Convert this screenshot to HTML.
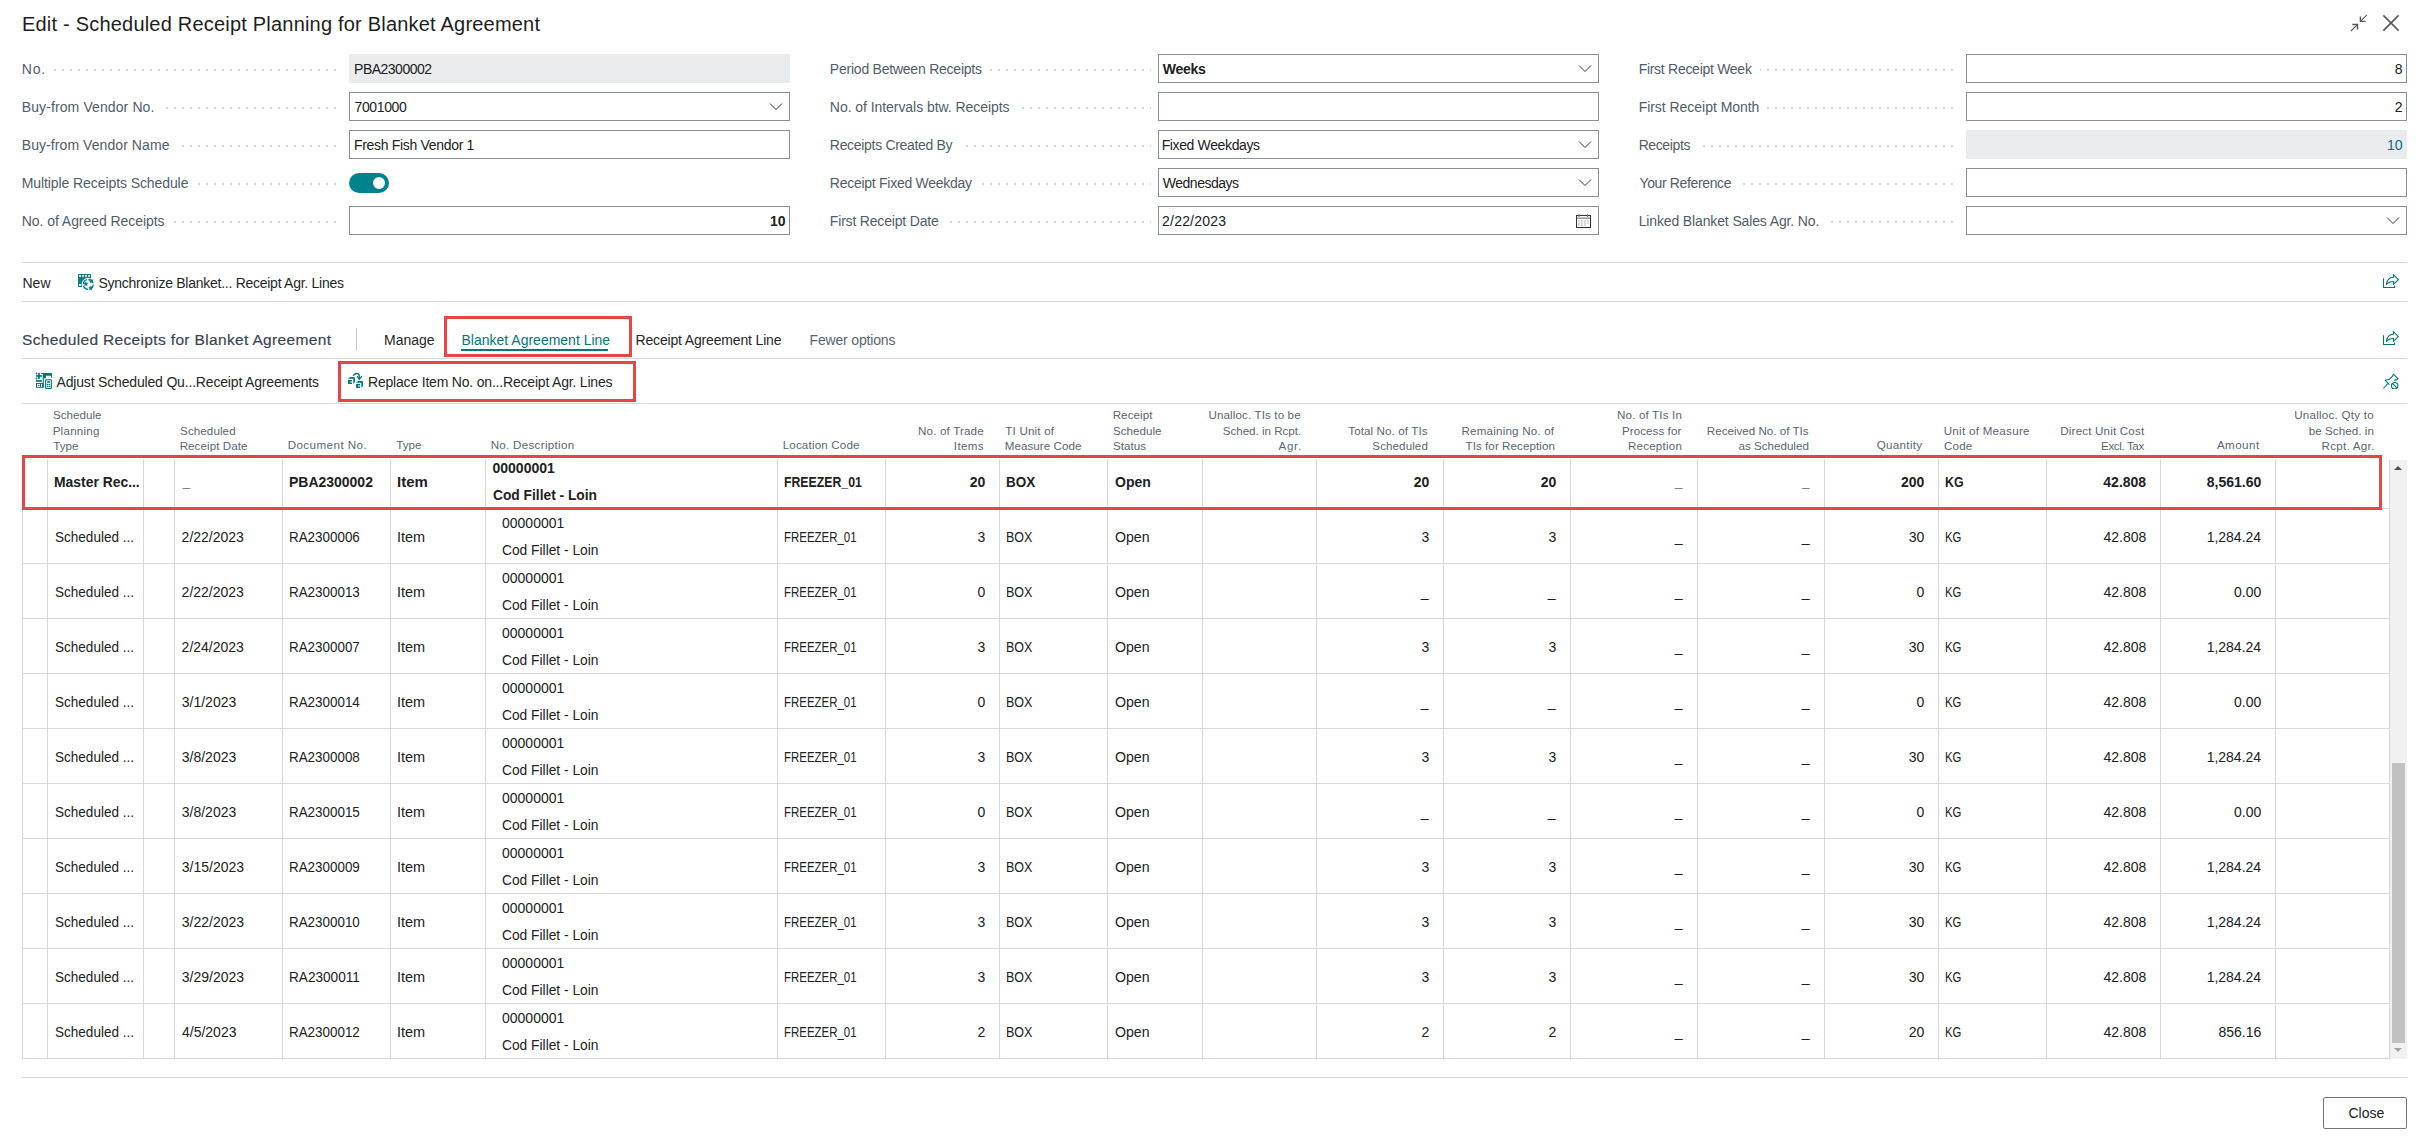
<!DOCTYPE html>
<html><head><meta charset="utf-8"><title>Edit - Scheduled Receipt Planning for Blanket Agreement</title>
<style>
*{margin:0;padding:0;box-sizing:content-box}
html,body{width:2427px;height:1142px;overflow:hidden;background:#fff}
body{position:relative;font-family:"Liberation Sans", sans-serif;}
.t,.ab,.lab,.dots,.hl{position:absolute}
.t{white-space:nowrap}
.lab{font-size:14px;line-height:20px;color:#525c68;background:#fff;padding-right:8px;white-space:nowrap}
.dots{height:2px;background-image:linear-gradient(90deg,#d2d5da 2px,transparent 2px);background-size:8px 2px;background-position:left top;background-repeat:repeat-x}
.inp{border:1px solid #8a909a;background:#fff}
.hl{left:22px;width:2385px;height:1px;background:#d5d8dd}
.rb{border:3px solid #e74641}
</style></head><body>
<div class="t" style="left:22px;top:10.07px;font-size:20px;line-height:28px;color:#1e1e1e;font-weight:normal;letter-spacing:0.204px;">Edit - Scheduled Receipt Planning for Blanket Agreement</div>
<svg class="ab" style="left:2348px;top:12px" width="24" height="24" viewBox="2348 12 24 24">
<g stroke="#555" fill="none" stroke-width="1.1" stroke-linecap="square">
<path d="M2366.6 15.2 L2360.6 21.2"/><path d="M2360.4 17.2 V21.4 H2364.8" stroke-width="1.4"/>
<path d="M2351.3 30.7 L2357.3 24.7"/><path d="M2353.0 24.5 H2357.5 V28.8" stroke-width="1.4"/>
</g></svg>
<svg class="ab" style="left:2380px;top:12px" width="22" height="22" viewBox="2380 12 22 22">
<g stroke="#555" stroke-width="1.7" stroke-linecap="square"><path d="M2384 16 L2398 30 M2398 16 L2384 30"/></g></svg>
<div class="dots" style="left:22px;top:69px;width:314px"></div>
<div class="lab" style="left:21.75px;top:58.65px;letter-spacing:0.770px;">No.</div>
<div class="ab" style="left:349px;top:54px;width:441px;height:29px;background:#eaebed"></div>
<div class="t" style="left:354.0515625px;top:58.65px;font-size:14px;line-height:20px;color:#212121;font-weight:normal;letter-spacing:-0.507px;">PBA2300002</div>
<div class="dots" style="left:22px;top:107px;width:314px"></div>
<div class="lab" style="left:21.75px;top:96.65px;letter-spacing:0.106px;">Buy-from Vendor No.</div>
<div class="ab inp" style="left:349px;top:92px;width:439px;height:27px"></div>
<div class="t" style="left:354.4822265625px;top:96.65px;font-size:14px;line-height:20px;color:#212121;font-weight:normal;letter-spacing:-0.356px;">7001000</div>
<svg class="ab" style="left:769px;top:102px" width="14" height="9"><path d="M1 1.5 L7 7.5 L13 1.5" stroke="#333" stroke-width="1" fill="none"/></svg>
<div class="dots" style="left:22px;top:145px;width:314px"></div>
<div class="lab" style="left:21.75px;top:134.65px;letter-spacing:0.073px;">Buy-from Vendor Name</div>
<div class="ab inp" style="left:349px;top:130px;width:439px;height:27px"></div>
<div class="t" style="left:354.0515625px;top:134.65px;font-size:14px;line-height:20px;color:#212121;font-weight:normal;letter-spacing:-0.318px;">Fresh Fish Vendor 1</div>
<div class="dots" style="left:22px;top:183px;width:314px"></div>
<div class="lab" style="left:21.75px;top:172.65px;letter-spacing:-0.088px;">Multiple Receipts Schedule</div>
<div class="ab" style="left:349px;top:173px;width:40px;height:20px;border-radius:10px;background:#00838f"></div><div class="ab" style="left:373px;top:177px;width:12px;height:12px;border-radius:6px;background:#fff"></div>
<div class="dots" style="left:22px;top:221px;width:314px"></div>
<div class="lab" style="left:21.75px;top:210.65px;letter-spacing:-0.053px;">No. of Agreed Receipts</div>
<div class="ab inp" style="left:349px;top:206px;width:439px;height:27px"></div>
<div class="t" style="right:1641.5px;top:210.65px;font-size:14px;line-height:20px;color:#212121;font-weight:bold;text-align:right;">10</div>
<div class="dots" style="left:830px;top:69px;width:321px"></div>
<div class="lab" style="left:829.85px;top:58.65px;letter-spacing:-0.229px;">Period Between Receipts</div>
<div class="ab inp" style="left:1158px;top:54px;width:439px;height:27px"></div>
<div class="t" style="left:1162.786328125px;top:58.65px;font-size:14px;line-height:20px;color:#212121;font-weight:bold;letter-spacing:-0.279px;">Weeks</div>
<svg class="ab" style="left:1578px;top:64px" width="14" height="9"><path d="M1 1.5 L7 7.5 L13 1.5" stroke="#333" stroke-width="1" fill="none"/></svg>
<div class="dots" style="left:830px;top:107px;width:321px"></div>
<div class="lab" style="left:829.85px;top:96.65px;letter-spacing:-0.057px;">No. of Intervals btw. Receipts</div>
<div class="ab inp" style="left:1158px;top:92px;width:439px;height:27px"></div>
<div class="dots" style="left:830px;top:145px;width:321px"></div>
<div class="lab" style="left:829.85px;top:134.65px;letter-spacing:-0.312px;">Receipts Created By</div>
<div class="ab inp" style="left:1158px;top:130px;width:439px;height:27px"></div>
<div class="t" style="left:1161.6515625px;top:134.65px;font-size:14px;line-height:20px;color:#212121;font-weight:normal;letter-spacing:-0.367px;">Fixed Weekdays</div>
<svg class="ab" style="left:1578px;top:140px" width="14" height="9"><path d="M1 1.5 L7 7.5 L13 1.5" stroke="#333" stroke-width="1" fill="none"/></svg>
<div class="dots" style="left:830px;top:183px;width:321px"></div>
<div class="lab" style="left:829.85px;top:172.65px;letter-spacing:-0.271px;">Receipt Fixed Weekday</div>
<div class="ab inp" style="left:1158px;top:168px;width:439px;height:27px"></div>
<div class="t" style="left:1162.7384765625px;top:172.65px;font-size:14px;line-height:20px;color:#212121;font-weight:normal;letter-spacing:-0.479px;">Wednesdays</div>
<svg class="ab" style="left:1578px;top:178px" width="14" height="9"><path d="M1 1.5 L7 7.5 L13 1.5" stroke="#333" stroke-width="1" fill="none"/></svg>
<div class="dots" style="left:830px;top:221px;width:321px"></div>
<div class="lab" style="left:829.85px;top:210.65px;letter-spacing:-0.186px;">First Receipt Date</div>
<div class="ab inp" style="left:1158px;top:206px;width:439px;height:27px"></div>
<div class="t" style="left:1162.0958984375px;top:210.65px;font-size:14px;line-height:20px;color:#212121;font-weight:normal;letter-spacing:0.192px;">2/22/2023</div>
<svg class="ab" style="left:1575px;top:213px" width="17" height="16" viewBox="0 0 17 16">
<g fill="none" stroke="#333" stroke-width="1"><rect x="1.5" y="2.5" width="14" height="12"/></g>
<rect x="2" y="4.5" width="13" height="1.3" fill="#888"/>
<g fill="#777"><rect x="3.5" y="1" width="1" height="3"/><rect x="12" y="1" width="1" height="3"/>
<rect x="3.5" y="7.5" width="1" height="1"/><rect x="6.5" y="7.5" width="1" height="1"/><rect x="9.5" y="7.5" width="1" height="1"/><rect x="12.5" y="7.5" width="1" height="1"/>
<rect x="3.5" y="9.5" width="1" height="1"/><rect x="6.5" y="9.5" width="1" height="1"/><rect x="9.5" y="9.5" width="1" height="1"/><rect x="12.5" y="9.5" width="1" height="1"/>
<rect x="3.5" y="11.5" width="1" height="1"/><rect x="6.5" y="11.5" width="1" height="1"/><rect x="9.5" y="11.5" width="1" height="1"/></g></svg>
<div class="dots" style="left:1639px;top:69px;width:314px"></div>
<div class="lab" style="left:1638.65px;top:58.65px;letter-spacing:-0.280px;">First Receipt Week</div>
<div class="ab inp" style="left:1966px;top:54px;width:439px;height:27px"></div>
<div class="t" style="right:24.5px;top:58.65px;font-size:14px;line-height:20px;color:#212121;font-weight:normal;text-align:right;">8</div>
<div class="dots" style="left:1639px;top:107px;width:314px"></div>
<div class="lab" style="left:1638.65px;top:96.65px;letter-spacing:-0.034px;">First Receipt Month</div>
<div class="ab inp" style="left:1966px;top:92px;width:439px;height:27px"></div>
<div class="t" style="right:24.5px;top:96.65px;font-size:14px;line-height:20px;color:#212121;font-weight:normal;text-align:right;">2</div>
<div class="dots" style="left:1639px;top:145px;width:314px"></div>
<div class="lab" style="left:1638.65px;top:134.65px;letter-spacing:-0.388px;">Receipts</div>
<div class="ab" style="left:1966px;top:130px;width:441px;height:29px;background:#eaebed"></div>
<div class="t" style="right:24.5px;top:134.65px;font-size:14px;line-height:20px;color:#00707c;font-weight:normal;text-align:right;">10</div>
<div class="dots" style="left:1639px;top:183px;width:314px"></div>
<div class="lab" style="left:1639.49px;top:172.65px;letter-spacing:-0.365px;">Your Reference</div>
<div class="ab inp" style="left:1966px;top:168px;width:439px;height:27px"></div>
<div class="dots" style="left:1639px;top:221px;width:314px"></div>
<div class="lab" style="left:1638.65px;top:210.65px;letter-spacing:-0.133px;">Linked Blanket Sales Agr. No.</div>
<div class="ab inp" style="left:1966px;top:206px;width:439px;height:27px"></div>
<svg class="ab" style="left:2386px;top:216px" width="14" height="9"><path d="M1 1.5 L7 7.5 L13 1.5" stroke="#333" stroke-width="1" fill="none"/></svg>
<div class="hl" style="top:262px"></div>
<div class="t" style="left:22.5px;top:273.15px;font-size:14px;line-height:20px;color:#262626;font-weight:normal;">New</div>
<svg class="ab" style="left:72px;top:268px" width="28" height="28" viewBox="0 0 28 28">
<rect x="6" y="6" width="13" height="13" rx="0.8" fill="#0a7f86"/>
<g fill="#fff"><rect x="7.2" y="7.1" width="1.7" height="1.8"/><rect x="10.2" y="7.1" width="1.7" height="1.8"/><rect x="13.2" y="7.1" width="1.7" height="1.8"/><rect x="16.2" y="7.1" width="1.7" height="1.8"/>
<rect x="7.1" y="16" width="1.8" height="1.9"/></g>
<circle cx="16.2" cy="16.4" r="6.6" fill="#fff"/>
<circle cx="16.2" cy="16.4" r="4.9" fill="none" stroke="#0a7f86" stroke-width="1.3" stroke-dasharray="6 1.6"/>
<g fill="#0a7f86">
<path d="M11.2 15.2 l1.9 -0.4 l0.9 -1.7 l0.7 1.8 l1.9 0.3 l-1.5 1.2 l0.4 1.9 l-1.6 -1 l-1.7 0.9 l0.4 -1.9z"/>
<path d="M18.6 10.4 l1.2 1.3 l1.8 -0.2 l-0.9 1.6 l0.8 1.6 l-1.8 -0.4 l-1.3 1.2 l-0.2 -1.8 l-1.6 -0.9 l1.7 -0.7z"/>
<path d="M16.4 19.4 l1.7 -0.6 l1 -1.5 l0.5 1.8 l1.8 0.5 l-1.5 1 l0.1 1.8 l-1.4 -1.1 l-1.7 0.6 l0.6 -1.7z"/>
</g>
</svg>
<div class="t" style="left:98.5px;top:273.15px;font-size:14px;line-height:20px;color:#262626;font-weight:normal;letter-spacing:-0.263px;">Synchronize Blanket... Receipt Agr. Lines</div>
<svg class="ab" style="left:2380px;top:274px" width="22" height="18" viewBox="0 0 22 18">
<g fill="none" stroke="#00767a" stroke-width="1.1" stroke-linejoin="round">
<path d="M3.5 4.2 V13.5 H14.6 V11.5"/>
<path d="M13.4 0.6 L18.4 5.6 L13.4 10.4 V7.5 C10 7.2 8.2 8.2 6.3 10.3 C7 6 10 3.4 13.4 3.3 Z"/>
</g></svg>
<div class="hl" style="top:301px"></div>
<div class="t" style="left:22px;top:328.63px;font-size:15.5px;line-height:22px;color:#3b4552;font-weight:normal;-webkit-text-stroke:0.2px #3b4552;letter-spacing:0.345px;">Scheduled Receipts for Blanket Agreement</div>
<div class="ab" style="left:356px;top:328px;width:1px;height:23px;background:#c8cbd0"></div>
<div class="t" style="left:384px;top:330.15px;font-size:14px;line-height:20px;color:#262626;font-weight:normal;">Manage</div>
<div class="t" style="left:461.5px;top:330.15px;font-size:14px;line-height:20px;color:#00767a;font-weight:normal;">Blanket Agreement Line</div>
<div class="ab" style="left:461px;top:349px;width:147px;height:2px;background:#007a7d"></div>
<div class="t" style="left:635.5px;top:330.15px;font-size:14px;line-height:20px;color:#262626;font-weight:normal;letter-spacing:-0.163px;">Receipt Agreement Line</div>
<div class="t" style="left:809.5px;top:330.15px;font-size:14px;line-height:20px;color:#5a6470;font-weight:normal;letter-spacing:-0.161px;">Fewer options</div>
<svg class="ab" style="left:2380px;top:331px" width="22" height="18" viewBox="0 0 22 18">
<g fill="none" stroke="#00767a" stroke-width="1.1" stroke-linejoin="round">
<path d="M3.5 4.2 V13.5 H14.6 V11.5"/>
<path d="M13.4 0.6 L18.4 5.6 L13.4 10.4 V7.5 C10 7.2 8.2 8.2 6.3 10.3 C7 6 10 3.4 13.4 3.3 Z"/>
</g></svg>
<div class="hl" style="top:358px"></div>
<svg class="ab" style="left:30px;top:368px" width="28" height="28" viewBox="0 0 28 28">
<g fill="#00767a">
<circle cx="6.5" cy="5.4" r="0.9"/><circle cx="6.5" cy="10.5" r="0.9"/>
<rect x="8.1" y="4.9" width="1.8" height="5.9"/><rect x="6" y="7.1" width="5.9" height="1.7"/>
<rect x="6" y="12.1" width="5.9" height="1.7"/>
<path d="M11.2 4.9 H21.9 V9.8 H20.9 V7.8 H15.9 V10.3 H13.8 V19.8 H12.7 V6.1 H11.2 Z"/>
<path fill-rule="evenodd" d="M6 15 H13 V19.8 H6 Z M7 16 V18.9 H9.9 V16 Z M11 16 V18.9 H12 V16 Z"/>
<circle cx="8.5" cy="17.5" r="0.8"/>
<path fill-rule="evenodd" d="M15.9 11.2 H21.1 Q21.9 11.2 21.9 12 V20.2 Q21.9 21 21.1 21 H15.9 Q15.1 21 15.1 20.2 V12 Q15.1 11.2 15.9 11.2 Z M16.2 12.2 V20 H20.8 V12.2 Z"/>
<rect x="17.2" y="13.1" width="2.7" height="1.7"/>
<circle cx="17.5" cy="16.5" r="0.8"/><circle cx="19.5" cy="16.5" r="0.8"/><circle cx="17.5" cy="18.5" r="0.8"/><circle cx="19.5" cy="18.5" r="0.8"/>
</g></svg>
<div class="t" style="left:56.5px;top:372.15px;font-size:14px;line-height:20px;color:#262626;font-weight:normal;letter-spacing:-0.174px;">Adjust Scheduled Qu...Receipt Agreements</div>
<svg class="ab" style="left:342px;top:368px" width="28" height="28" viewBox="0 0 28 28">
<g fill="#00767a">
<path id="bx" d="M6 10.7 C7 9.7 7.8 9.1 9.2 9.1 H11.6 C12.5 9.1 13 9.8 13 10.6 V13.9 L11.3 16 V10.7 Z M6 12.1 H10 V13.5 H7.9 V14.6 H10 V16 H6 Z"/>
<path transform="translate(8.1 4)" d="M6 10.7 C7 9.7 7.8 9.1 9.2 9.1 H11.6 C12.5 9.1 13 9.8 13 10.6 V13.9 L11.3 16 V10.7 Z M6 12.1 H10 V13.5 H7.9 V14.6 H10 V16 H6 Z"/>
</g>
<g fill="none" stroke="#00767a" stroke-width="1.3" stroke-linecap="round" stroke-linejoin="round">
<path d="M11.4 7.4 C12.5 6.1 13.5 5.5 14.7 5.5 C16.3 5.5 17.4 6.8 17.4 8.5 V11"/>
<path d="M15.5 8.6 L17.4 11.3 L19.4 8.6"/>
</g></svg>
<div class="t" style="left:368px;top:372.15px;font-size:14px;line-height:20px;color:#262626;font-weight:normal;letter-spacing:-0.196px;">Replace Item No. on...Receipt Agr. Lines</div>
<svg class="ab" style="left:2380px;top:367px" width="22" height="22" viewBox="0 0 22 22">
<g fill="none" stroke="#00767a" stroke-width="1.1" stroke-linejoin="round">
<path d="M9.4 17.6 L5.2 13.3 L9.2 12.3 L12.6 9.2 L13.4 7.1 L17.9 11.6 L17 12.6 L14.2 13.4"/>
<path d="M7.9 16.5 L3.4 21.5"/>
<circle cx="14.7" cy="18.7" r="3.2"/><path d="M12.5 16.5 L16.9 20.9"/>
</g></svg>
<div class="hl" style="top:403px"></div>
<div class="ab rb" style="left:338px;top:361px;width:292px;height:35px"></div>
<div class="ab rb" style="left:444px;top:316px;width:182px;height:35px"></div>

<div class="t" style="left:53.0732421875px;top:406.98px;font-size:11.6px;line-height:16px;color:#5b6571;font-weight:normal;letter-spacing:0.010px;">Schedule</div>
<div class="t" style="left:52.6484375px;top:422.68px;font-size:11.6px;line-height:16px;color:#5b6571;font-weight:normal;letter-spacing:0.250px;">Planning</div>
<div class="t" style="left:53.339453125px;top:438.38px;font-size:11.6px;line-height:16px;color:#5b6571;font-weight:normal;letter-spacing:0.009px;">Type</div>
<div class="t" style="left:180.0732421875px;top:422.68px;font-size:11.6px;line-height:16px;color:#5b6571;font-weight:normal;letter-spacing:0.094px;">Scheduled</div>
<div class="t" style="left:179.6484375px;top:438.38px;font-size:11.6px;line-height:16px;color:#5b6571;font-weight:normal;letter-spacing:0.074px;">Receipt Date</div>
<div class="t" style="left:287.6484375px;top:436.78px;font-size:11.6px;line-height:16px;color:#5b6571;font-weight:normal;letter-spacing:0.452px;">Document No.</div>
<div class="t" style="left:396.33945312500003px;top:436.78px;font-size:11.6px;line-height:16px;color:#5b6571;font-weight:normal;letter-spacing:0.009px;">Type</div>
<div class="t" style="left:490.6484375px;top:436.78px;font-size:11.6px;line-height:16px;color:#5b6571;font-weight:normal;letter-spacing:0.300px;">No. Description</div>
<div class="t" style="left:782.6484375px;top:436.78px;font-size:11.6px;line-height:16px;color:#5b6571;font-weight:normal;letter-spacing:0.180px;">Location Code</div>
<div class="t" style="right:1443.3845703124998px;top:422.68px;font-size:11.6px;line-height:16px;color:#5b6571;font-weight:normal;text-align:right;letter-spacing:0.157px;margin-right:-0.157px;">No. of Trade</div>
<div class="t" style="right:1443.480859375px;top:438.38px;font-size:11.6px;line-height:16px;color:#5b6571;font-weight:normal;text-align:right;letter-spacing:0.332px;margin-right:-0.332px;">Items</div>
<div class="t" style="left:1005.339453125px;top:422.68px;font-size:11.6px;line-height:16px;color:#5b6571;font-weight:normal;letter-spacing:0.187px;">TI Unit of</div>
<div class="t" style="left:1004.6484375px;top:438.38px;font-size:11.6px;line-height:16px;color:#5b6571;font-weight:normal;letter-spacing:0.080px;">Measure Code</div>
<div class="t" style="left:1112.6484375px;top:406.98px;font-size:11.6px;line-height:16px;color:#5b6571;font-weight:normal;letter-spacing:0.084px;">Receipt</div>
<div class="t" style="left:1113.0732421875px;top:422.68px;font-size:11.6px;line-height:16px;color:#5b6571;font-weight:normal;letter-spacing:0.010px;">Schedule</div>
<div class="t" style="left:1113.0732421875px;top:438.38px;font-size:11.6px;line-height:16px;color:#5b6571;font-weight:normal;letter-spacing:0.032px;">Status</div>
<div class="t" style="right:1126.3845703125px;top:406.98px;font-size:11.6px;line-height:16px;color:#5b6571;font-weight:normal;text-align:right;letter-spacing:0.127px;margin-right:-0.127px;">Unalloc. TIs to be</div>
<div class="t" style="right:1125.8408203125px;top:422.68px;font-size:11.6px;line-height:16px;color:#5b6571;font-weight:normal;text-align:right;letter-spacing:-0.013px;margin-right:0.013px;">Sched. in Rcpt.</div>
<div class="t" style="right:1125.8408203125px;top:438.38px;font-size:11.6px;line-height:16px;color:#5b6571;font-weight:normal;text-align:right;letter-spacing:0.649px;margin-right:-0.649px;">Agr.</div>
<div class="t" style="right:999.4808593750001px;top:422.68px;font-size:11.6px;line-height:16px;color:#5b6571;font-weight:normal;text-align:right;letter-spacing:0.099px;margin-right:-0.099px;">Total No. of TIs</div>
<div class="t" style="right:999.15234375px;top:438.38px;font-size:11.6px;line-height:16px;color:#5b6571;font-weight:normal;text-align:right;letter-spacing:0.094px;margin-right:-0.094px;">Scheduled</div>
<div class="t" style="right:872.9169921875px;top:422.68px;font-size:11.6px;line-height:16px;color:#5b6571;font-weight:normal;text-align:right;letter-spacing:0.201px;margin-right:-0.201px;">Remaining No. of</div>
<div class="t" style="right:872.1466796875002px;top:438.38px;font-size:11.6px;line-height:16px;color:#5b6571;font-weight:normal;text-align:right;letter-spacing:0.068px;margin-right:-0.068px;">TIs for Reception</div>
<div class="t" style="right:745.1466796875002px;top:406.98px;font-size:11.6px;line-height:16px;color:#5b6571;font-weight:normal;text-align:right;letter-spacing:0.153px;margin-right:-0.153px;">No. of TIs In</div>
<div class="t" style="right:745.7074218750001px;top:422.68px;font-size:11.6px;line-height:16px;color:#5b6571;font-weight:normal;text-align:right;letter-spacing:0.068px;margin-right:-0.068px;">Process for</div>
<div class="t" style="right:745.1466796875002px;top:438.38px;font-size:11.6px;line-height:16px;color:#5b6571;font-weight:normal;text-align:right;letter-spacing:0.209px;margin-right:-0.209px;">Reception</div>
<div class="t" style="right:618.4808593750001px;top:422.68px;font-size:11.6px;line-height:16px;color:#5b6571;font-weight:normal;text-align:right;letter-spacing:0.006px;margin-right:-0.006px;">Received No. of TIs</div>
<div class="t" style="right:618.15234375px;top:438.38px;font-size:11.6px;line-height:16px;color:#5b6571;font-weight:normal;text-align:right;letter-spacing:0.004px;margin-right:-0.004px;">as Scheduled</div>
<div class="t" style="right:504.87734375000014px;top:436.78px;font-size:11.6px;line-height:16px;color:#5b6571;font-weight:normal;text-align:right;letter-spacing:0.310px;margin-right:-0.310px;">Quantity</div>
<div class="t" style="left:1943.705078125px;top:422.68px;font-size:11.6px;line-height:16px;color:#5b6571;font-weight:normal;letter-spacing:0.281px;">Unit of Measure</div>
<div class="t" style="left:1944.0109375px;top:438.38px;font-size:11.6px;line-height:16px;color:#5b6571;font-weight:normal;letter-spacing:0.191px;">Code</div>
<div class="t" style="right:282.8150390625001px;top:422.68px;font-size:11.6px;line-height:16px;color:#5b6571;font-weight:normal;text-align:right;letter-spacing:0.181px;margin-right:-0.181px;">Direct Unit Cost</div>
<div class="t" style="right:282.775390625px;top:438.38px;font-size:11.6px;line-height:16px;color:#5b6571;font-weight:normal;text-align:right;letter-spacing:-0.378px;margin-right:0.378px;">Excl. Tax</div>
<div class="t" style="right:167.8150390625001px;top:436.78px;font-size:11.6px;line-height:16px;color:#5b6571;font-weight:normal;text-align:right;letter-spacing:0.466px;margin-right:-0.466px;">Amount</div>
<div class="t" style="right:53.41289062500027px;top:406.98px;font-size:11.6px;line-height:16px;color:#5b6571;font-weight:normal;text-align:right;letter-spacing:0.243px;margin-right:-0.243px;">Unalloc. Qty to</div>
<div class="t" style="right:53.14667968750018px;top:422.68px;font-size:11.6px;line-height:16px;color:#5b6571;font-weight:normal;text-align:right;letter-spacing:0.064px;margin-right:-0.064px;">be Sched. in</div>
<div class="t" style="right:52.8408203125px;top:438.38px;font-size:11.6px;line-height:16px;color:#5b6571;font-weight:normal;text-align:right;letter-spacing:0.258px;margin-right:-0.258px;">Rcpt. Agr.</div>
<div class="ab" style="left:22px;top:508px;width:2367px;height:1px;background:#d4d7dc"></div>
<div class="ab" style="left:22px;top:563px;width:2367px;height:1px;background:#d4d7dc"></div>
<div class="ab" style="left:22px;top:618px;width:2367px;height:1px;background:#d4d7dc"></div>
<div class="ab" style="left:22px;top:673px;width:2367px;height:1px;background:#d4d7dc"></div>
<div class="ab" style="left:22px;top:728px;width:2367px;height:1px;background:#d4d7dc"></div>
<div class="ab" style="left:22px;top:783px;width:2367px;height:1px;background:#d4d7dc"></div>
<div class="ab" style="left:22px;top:838px;width:2367px;height:1px;background:#d4d7dc"></div>
<div class="ab" style="left:22px;top:893px;width:2367px;height:1px;background:#d4d7dc"></div>
<div class="ab" style="left:22px;top:948px;width:2367px;height:1px;background:#d4d7dc"></div>
<div class="ab" style="left:22px;top:1003px;width:2367px;height:1px;background:#d4d7dc"></div>
<div class="ab" style="left:22px;top:1058px;width:2367px;height:1px;background:#d4d7dc"></div>
<div class="ab" style="left:22px;top:509px;width:1px;height:550px;background:#d4d7dc"></div>
<div class="ab" style="left:47px;top:460px;width:1px;height:599px;background:#d4d7dc"></div>
<div class="ab" style="left:143px;top:460px;width:1px;height:599px;background:#d4d7dc"></div>
<div class="ab" style="left:174px;top:460px;width:1px;height:599px;background:#d4d7dc"></div>
<div class="ab" style="left:282px;top:460px;width:1px;height:599px;background:#d4d7dc"></div>
<div class="ab" style="left:390px;top:460px;width:1px;height:599px;background:#d4d7dc"></div>
<div class="ab" style="left:485px;top:460px;width:1px;height:599px;background:#d4d7dc"></div>
<div class="ab" style="left:777px;top:460px;width:1px;height:599px;background:#d4d7dc"></div>
<div class="ab" style="left:885px;top:460px;width:1px;height:599px;background:#d4d7dc"></div>
<div class="ab" style="left:999px;top:460px;width:1px;height:599px;background:#d4d7dc"></div>
<div class="ab" style="left:1107px;top:460px;width:1px;height:599px;background:#d4d7dc"></div>
<div class="ab" style="left:1202px;top:460px;width:1px;height:599px;background:#d4d7dc"></div>
<div class="ab" style="left:1316px;top:460px;width:1px;height:599px;background:#d4d7dc"></div>
<div class="ab" style="left:1443px;top:460px;width:1px;height:599px;background:#d4d7dc"></div>
<div class="ab" style="left:1570px;top:460px;width:1px;height:599px;background:#d4d7dc"></div>
<div class="ab" style="left:1697px;top:460px;width:1px;height:599px;background:#d4d7dc"></div>
<div class="ab" style="left:1824px;top:460px;width:1px;height:599px;background:#d4d7dc"></div>
<div class="ab" style="left:1938px;top:460px;width:1px;height:599px;background:#d4d7dc"></div>
<div class="ab" style="left:2046px;top:460px;width:1px;height:599px;background:#d4d7dc"></div>
<div class="ab" style="left:2160px;top:460px;width:1px;height:599px;background:#d4d7dc"></div>
<div class="ab" style="left:2275px;top:460px;width:1px;height:599px;background:#d4d7dc"></div>
<div class="ab" style="left:2389px;top:460px;width:1px;height:599px;background:#d4d7dc"></div>
<div class="t" style="left:54.370526246742905px;top:472.15px;font-size:14px;line-height:20px;color:#212121;font-weight:bold;transform:scaleX(0.9925);transform-origin:left center;">Master Rec...</div>
<div class="t" style="left:182.43671875px;top:472.15px;font-size:14px;line-height:20px;color:#212121;font-weight:bold;">_</div>
<div class="t" style="left:289.3651479309191px;top:472.15px;font-size:14px;line-height:20px;color:#212121;font-weight:bold;transform:scaleX(0.9982);transform-origin:left center;">PBA2300002</div>
<div class="t" style="left:397.2984402126736px;top:472.15px;font-size:14px;line-height:20px;color:#212121;font-weight:bold;transform:scaleX(1.0694);transform-origin:left center;">Item</div>
<div class="t" style="left:784.4785623062288px;top:472.15px;font-size:14px;line-height:20px;color:#212121;font-weight:bold;transform:scaleX(0.8771);transform-origin:left center;">FREEZER_01</div>
<div class="t" style="left:1006.3989626235584px;top:472.15px;font-size:14px;line-height:20px;color:#212121;font-weight:bold;transform:scaleX(0.9621);transform-origin:left center;">BOX</div>
<div class="t" style="left:1114.7241772870111px;top:472.15px;font-size:14px;line-height:20px;color:#212121;font-weight:bold;transform:scaleX(1.0028);transform-origin:left center;">Open</div>
<div class="t" style="left:1945.4705078125px;top:472.15px;font-size:14px;line-height:20px;color:#212121;font-weight:bold;transform:scaleX(0.8857);transform-origin:left center;">KG</div>
<div class="t" style="right:1441.72578125px;top:472.15px;font-size:14px;line-height:20px;color:#212121;font-weight:bold;text-align:right;">20</div>
<div class="t" style="right:997.72578125px;top:472.15px;font-size:14px;line-height:20px;color:#212121;font-weight:bold;text-align:right;">20</div>
<div class="t" style="right:870.72578125px;top:472.15px;font-size:14px;line-height:20px;color:#212121;font-weight:bold;text-align:right;">20</div>
<div class="t" style="right:744.423046875px;top:472.15px;font-size:14px;line-height:20px;color:#212121;font-weight:bold;text-align:right;">_</div>
<div class="t" style="right:617.423046875px;top:472.15px;font-size:14px;line-height:20px;color:#212121;font-weight:bold;text-align:right;">_</div>
<div class="t" style="right:502.72578124999995px;top:472.15px;font-size:14px;line-height:20px;color:#212121;font-weight:bold;text-align:right;">200</div>
<div class="t" style="right:280.8693359375002px;top:472.15px;font-size:14px;line-height:20px;color:#212121;font-weight:bold;text-align:right;">42.808</div>
<div class="t" style="right:165.72578125000018px;top:472.15px;font-size:14px;line-height:20px;color:#212121;font-weight:bold;text-align:right;">8,561.60</div>
<div class="t" style="left:492.5px;top:458.15px;font-size:14px;line-height:20px;color:#212121;font-weight:bold;">00000001</div>
<div class="t" style="left:492.5px;top:485.15px;font-size:14px;line-height:20px;color:#212121;font-weight:bold;transform:scaleX(0.9835);transform-origin:left center;">Cod Fillet - Loin</div>
<div class="t" style="left:54.685267652233776px;top:527.15px;font-size:14px;line-height:20px;color:#212121;font-weight:normal;transform:scaleX(0.9670);transform-origin:left center;">Scheduled ...</div>
<div class="t" style="left:181.5958984375px;top:527.15px;font-size:14px;line-height:20px;color:#212121;font-weight:normal;">2/22/2023</div>
<div class="t" style="left:289.2004817444219px;top:527.15px;font-size:14px;line-height:20px;color:#212121;font-weight:normal;transform:scaleX(0.9574);transform-origin:left center;">RA2300006</div>
<div class="t" style="left:396.96296588302755px;top:527.15px;font-size:14px;line-height:20px;color:#212121;font-weight:normal;transform:scaleX(1.0349);transform-origin:left center;">Item</div>
<div class="t" style="left:784.3600162063134px;top:527.15px;font-size:14px;line-height:20px;color:#212121;font-weight:normal;transform:scaleX(0.8185);transform-origin:left center;">FREEZER_01</div>
<div class="t" style="left:1006.2739847715735px;top:527.15px;font-size:14px;line-height:20px;color:#212121;font-weight:normal;transform:scaleX(0.8934);transform-origin:left center;">BOX</div>
<div class="t" style="left:1114.6301380018247px;top:527.15px;font-size:14px;line-height:20px;color:#212121;font-weight:normal;transform:scaleX(1.0102);transform-origin:left center;">Open</div>
<div class="t" style="left:1945.3699074074073px;top:527.15px;font-size:14px;line-height:20px;color:#212121;font-weight:normal;transform:scaleX(0.8099);transform-origin:left center;">KG</div>
<div class="t" style="right:1441.684765625px;top:527.15px;font-size:14px;line-height:20px;color:#212121;font-weight:normal;text-align:right;">3</div>
<div class="t" style="right:997.684765625px;top:527.15px;font-size:14px;line-height:20px;color:#212121;font-weight:normal;text-align:right;">3</div>
<div class="t" style="right:870.684765625px;top:527.15px;font-size:14px;line-height:20px;color:#212121;font-weight:normal;text-align:right;">3</div>
<div class="t" style="right:744.4572265625px;top:527.15px;font-size:14px;line-height:20px;color:#212121;font-weight:normal;text-align:right;">_</div>
<div class="t" style="right:617.4572265625px;top:527.15px;font-size:14px;line-height:20px;color:#212121;font-weight:normal;text-align:right;">_</div>
<div class="t" style="right:502.75312499999995px;top:527.15px;font-size:14px;line-height:20px;color:#212121;font-weight:normal;text-align:right;">30</div>
<div class="t" style="right:280.6916015625002px;top:527.15px;font-size:14px;line-height:20px;color:#212121;font-weight:normal;text-align:right;">42.808</div>
<div class="t" style="right:165.88984375000018px;top:527.15px;font-size:14px;line-height:20px;color:#212121;font-weight:normal;text-align:right;">1,284.24</div>
<div class="t" style="left:502px;top:513.15px;font-size:14px;line-height:20px;color:#212121;font-weight:normal;">00000001</div>
<div class="t" style="left:502px;top:540.15px;font-size:14px;line-height:20px;color:#212121;font-weight:normal;transform:scaleX(0.9842);transform-origin:left center;">Cod Fillet - Loin</div>
<div class="t" style="left:54.685267652233776px;top:582.15px;font-size:14px;line-height:20px;color:#212121;font-weight:normal;transform:scaleX(0.9670);transform-origin:left center;">Scheduled ...</div>
<div class="t" style="left:181.5958984375px;top:582.15px;font-size:14px;line-height:20px;color:#212121;font-weight:normal;">2/22/2023</div>
<div class="t" style="left:289.2004817444219px;top:582.15px;font-size:14px;line-height:20px;color:#212121;font-weight:normal;transform:scaleX(0.9574);transform-origin:left center;">RA2300013</div>
<div class="t" style="left:396.96296588302755px;top:582.15px;font-size:14px;line-height:20px;color:#212121;font-weight:normal;transform:scaleX(1.0349);transform-origin:left center;">Item</div>
<div class="t" style="left:784.3600162063134px;top:582.15px;font-size:14px;line-height:20px;color:#212121;font-weight:normal;transform:scaleX(0.8185);transform-origin:left center;">FREEZER_01</div>
<div class="t" style="left:1006.2739847715735px;top:582.15px;font-size:14px;line-height:20px;color:#212121;font-weight:normal;transform:scaleX(0.8934);transform-origin:left center;">BOX</div>
<div class="t" style="left:1114.6301380018247px;top:582.15px;font-size:14px;line-height:20px;color:#212121;font-weight:normal;transform:scaleX(1.0102);transform-origin:left center;">Open</div>
<div class="t" style="left:1945.3699074074073px;top:582.15px;font-size:14px;line-height:20px;color:#212121;font-weight:normal;transform:scaleX(0.8099);transform-origin:left center;">KG</div>
<div class="t" style="right:1441.753125px;top:582.15px;font-size:14px;line-height:20px;color:#212121;font-weight:normal;text-align:right;">0</div>
<div class="t" style="right:998.4572265625px;top:582.15px;font-size:14px;line-height:20px;color:#212121;font-weight:normal;text-align:right;">_</div>
<div class="t" style="right:871.4572265625px;top:582.15px;font-size:14px;line-height:20px;color:#212121;font-weight:normal;text-align:right;">_</div>
<div class="t" style="right:744.4572265625px;top:582.15px;font-size:14px;line-height:20px;color:#212121;font-weight:normal;text-align:right;">_</div>
<div class="t" style="right:617.4572265625px;top:582.15px;font-size:14px;line-height:20px;color:#212121;font-weight:normal;text-align:right;">_</div>
<div class="t" style="right:502.75312499999995px;top:582.15px;font-size:14px;line-height:20px;color:#212121;font-weight:normal;text-align:right;">0</div>
<div class="t" style="right:280.6916015625002px;top:582.15px;font-size:14px;line-height:20px;color:#212121;font-weight:normal;text-align:right;">42.808</div>
<div class="t" style="right:165.75312500000018px;top:582.15px;font-size:14px;line-height:20px;color:#212121;font-weight:normal;text-align:right;">0.00</div>
<div class="t" style="left:502px;top:568.15px;font-size:14px;line-height:20px;color:#212121;font-weight:normal;">00000001</div>
<div class="t" style="left:502px;top:595.15px;font-size:14px;line-height:20px;color:#212121;font-weight:normal;transform:scaleX(0.9842);transform-origin:left center;">Cod Fillet - Loin</div>
<div class="t" style="left:54.685267652233776px;top:637.15px;font-size:14px;line-height:20px;color:#212121;font-weight:normal;transform:scaleX(0.9670);transform-origin:left center;">Scheduled ...</div>
<div class="t" style="left:181.5958984375px;top:637.15px;font-size:14px;line-height:20px;color:#212121;font-weight:normal;">2/24/2023</div>
<div class="t" style="left:289.2004817444219px;top:637.15px;font-size:14px;line-height:20px;color:#212121;font-weight:normal;transform:scaleX(0.9574);transform-origin:left center;">RA2300007</div>
<div class="t" style="left:396.96296588302755px;top:637.15px;font-size:14px;line-height:20px;color:#212121;font-weight:normal;transform:scaleX(1.0349);transform-origin:left center;">Item</div>
<div class="t" style="left:784.3600162063134px;top:637.15px;font-size:14px;line-height:20px;color:#212121;font-weight:normal;transform:scaleX(0.8185);transform-origin:left center;">FREEZER_01</div>
<div class="t" style="left:1006.2739847715735px;top:637.15px;font-size:14px;line-height:20px;color:#212121;font-weight:normal;transform:scaleX(0.8934);transform-origin:left center;">BOX</div>
<div class="t" style="left:1114.6301380018247px;top:637.15px;font-size:14px;line-height:20px;color:#212121;font-weight:normal;transform:scaleX(1.0102);transform-origin:left center;">Open</div>
<div class="t" style="left:1945.3699074074073px;top:637.15px;font-size:14px;line-height:20px;color:#212121;font-weight:normal;transform:scaleX(0.8099);transform-origin:left center;">KG</div>
<div class="t" style="right:1441.684765625px;top:637.15px;font-size:14px;line-height:20px;color:#212121;font-weight:normal;text-align:right;">3</div>
<div class="t" style="right:997.684765625px;top:637.15px;font-size:14px;line-height:20px;color:#212121;font-weight:normal;text-align:right;">3</div>
<div class="t" style="right:870.684765625px;top:637.15px;font-size:14px;line-height:20px;color:#212121;font-weight:normal;text-align:right;">3</div>
<div class="t" style="right:744.4572265625px;top:637.15px;font-size:14px;line-height:20px;color:#212121;font-weight:normal;text-align:right;">_</div>
<div class="t" style="right:617.4572265625px;top:637.15px;font-size:14px;line-height:20px;color:#212121;font-weight:normal;text-align:right;">_</div>
<div class="t" style="right:502.75312499999995px;top:637.15px;font-size:14px;line-height:20px;color:#212121;font-weight:normal;text-align:right;">30</div>
<div class="t" style="right:280.6916015625002px;top:637.15px;font-size:14px;line-height:20px;color:#212121;font-weight:normal;text-align:right;">42.808</div>
<div class="t" style="right:165.88984375000018px;top:637.15px;font-size:14px;line-height:20px;color:#212121;font-weight:normal;text-align:right;">1,284.24</div>
<div class="t" style="left:502px;top:623.15px;font-size:14px;line-height:20px;color:#212121;font-weight:normal;">00000001</div>
<div class="t" style="left:502px;top:650.15px;font-size:14px;line-height:20px;color:#212121;font-weight:normal;transform:scaleX(0.9842);transform-origin:left center;">Cod Fillet - Loin</div>
<div class="t" style="left:54.685267652233776px;top:692.15px;font-size:14px;line-height:20px;color:#212121;font-weight:normal;transform:scaleX(0.9670);transform-origin:left center;">Scheduled ...</div>
<div class="t" style="left:181.766796875px;top:692.15px;font-size:14px;line-height:20px;color:#212121;font-weight:normal;">3/1/2023</div>
<div class="t" style="left:289.2004817444219px;top:692.15px;font-size:14px;line-height:20px;color:#212121;font-weight:normal;transform:scaleX(0.9574);transform-origin:left center;">RA2300014</div>
<div class="t" style="left:396.96296588302755px;top:692.15px;font-size:14px;line-height:20px;color:#212121;font-weight:normal;transform:scaleX(1.0349);transform-origin:left center;">Item</div>
<div class="t" style="left:784.3600162063134px;top:692.15px;font-size:14px;line-height:20px;color:#212121;font-weight:normal;transform:scaleX(0.8185);transform-origin:left center;">FREEZER_01</div>
<div class="t" style="left:1006.2739847715735px;top:692.15px;font-size:14px;line-height:20px;color:#212121;font-weight:normal;transform:scaleX(0.8934);transform-origin:left center;">BOX</div>
<div class="t" style="left:1114.6301380018247px;top:692.15px;font-size:14px;line-height:20px;color:#212121;font-weight:normal;transform:scaleX(1.0102);transform-origin:left center;">Open</div>
<div class="t" style="left:1945.3699074074073px;top:692.15px;font-size:14px;line-height:20px;color:#212121;font-weight:normal;transform:scaleX(0.8099);transform-origin:left center;">KG</div>
<div class="t" style="right:1441.753125px;top:692.15px;font-size:14px;line-height:20px;color:#212121;font-weight:normal;text-align:right;">0</div>
<div class="t" style="right:998.4572265625px;top:692.15px;font-size:14px;line-height:20px;color:#212121;font-weight:normal;text-align:right;">_</div>
<div class="t" style="right:871.4572265625px;top:692.15px;font-size:14px;line-height:20px;color:#212121;font-weight:normal;text-align:right;">_</div>
<div class="t" style="right:744.4572265625px;top:692.15px;font-size:14px;line-height:20px;color:#212121;font-weight:normal;text-align:right;">_</div>
<div class="t" style="right:617.4572265625px;top:692.15px;font-size:14px;line-height:20px;color:#212121;font-weight:normal;text-align:right;">_</div>
<div class="t" style="right:502.75312499999995px;top:692.15px;font-size:14px;line-height:20px;color:#212121;font-weight:normal;text-align:right;">0</div>
<div class="t" style="right:280.6916015625002px;top:692.15px;font-size:14px;line-height:20px;color:#212121;font-weight:normal;text-align:right;">42.808</div>
<div class="t" style="right:165.75312500000018px;top:692.15px;font-size:14px;line-height:20px;color:#212121;font-weight:normal;text-align:right;">0.00</div>
<div class="t" style="left:502px;top:678.15px;font-size:14px;line-height:20px;color:#212121;font-weight:normal;">00000001</div>
<div class="t" style="left:502px;top:705.15px;font-size:14px;line-height:20px;color:#212121;font-weight:normal;transform:scaleX(0.9842);transform-origin:left center;">Cod Fillet - Loin</div>
<div class="t" style="left:54.685267652233776px;top:747.15px;font-size:14px;line-height:20px;color:#212121;font-weight:normal;transform:scaleX(0.9670);transform-origin:left center;">Scheduled ...</div>
<div class="t" style="left:181.766796875px;top:747.15px;font-size:14px;line-height:20px;color:#212121;font-weight:normal;">3/8/2023</div>
<div class="t" style="left:289.2004817444219px;top:747.15px;font-size:14px;line-height:20px;color:#212121;font-weight:normal;transform:scaleX(0.9574);transform-origin:left center;">RA2300008</div>
<div class="t" style="left:396.96296588302755px;top:747.15px;font-size:14px;line-height:20px;color:#212121;font-weight:normal;transform:scaleX(1.0349);transform-origin:left center;">Item</div>
<div class="t" style="left:784.3600162063134px;top:747.15px;font-size:14px;line-height:20px;color:#212121;font-weight:normal;transform:scaleX(0.8185);transform-origin:left center;">FREEZER_01</div>
<div class="t" style="left:1006.2739847715735px;top:747.15px;font-size:14px;line-height:20px;color:#212121;font-weight:normal;transform:scaleX(0.8934);transform-origin:left center;">BOX</div>
<div class="t" style="left:1114.6301380018247px;top:747.15px;font-size:14px;line-height:20px;color:#212121;font-weight:normal;transform:scaleX(1.0102);transform-origin:left center;">Open</div>
<div class="t" style="left:1945.3699074074073px;top:747.15px;font-size:14px;line-height:20px;color:#212121;font-weight:normal;transform:scaleX(0.8099);transform-origin:left center;">KG</div>
<div class="t" style="right:1441.684765625px;top:747.15px;font-size:14px;line-height:20px;color:#212121;font-weight:normal;text-align:right;">3</div>
<div class="t" style="right:997.684765625px;top:747.15px;font-size:14px;line-height:20px;color:#212121;font-weight:normal;text-align:right;">3</div>
<div class="t" style="right:870.684765625px;top:747.15px;font-size:14px;line-height:20px;color:#212121;font-weight:normal;text-align:right;">3</div>
<div class="t" style="right:744.4572265625px;top:747.15px;font-size:14px;line-height:20px;color:#212121;font-weight:normal;text-align:right;">_</div>
<div class="t" style="right:617.4572265625px;top:747.15px;font-size:14px;line-height:20px;color:#212121;font-weight:normal;text-align:right;">_</div>
<div class="t" style="right:502.75312499999995px;top:747.15px;font-size:14px;line-height:20px;color:#212121;font-weight:normal;text-align:right;">30</div>
<div class="t" style="right:280.6916015625002px;top:747.15px;font-size:14px;line-height:20px;color:#212121;font-weight:normal;text-align:right;">42.808</div>
<div class="t" style="right:165.88984375000018px;top:747.15px;font-size:14px;line-height:20px;color:#212121;font-weight:normal;text-align:right;">1,284.24</div>
<div class="t" style="left:502px;top:733.15px;font-size:14px;line-height:20px;color:#212121;font-weight:normal;">00000001</div>
<div class="t" style="left:502px;top:760.15px;font-size:14px;line-height:20px;color:#212121;font-weight:normal;transform:scaleX(0.9842);transform-origin:left center;">Cod Fillet - Loin</div>
<div class="t" style="left:54.685267652233776px;top:802.15px;font-size:14px;line-height:20px;color:#212121;font-weight:normal;transform:scaleX(0.9670);transform-origin:left center;">Scheduled ...</div>
<div class="t" style="left:181.766796875px;top:802.15px;font-size:14px;line-height:20px;color:#212121;font-weight:normal;">3/8/2023</div>
<div class="t" style="left:289.2004817444219px;top:802.15px;font-size:14px;line-height:20px;color:#212121;font-weight:normal;transform:scaleX(0.9574);transform-origin:left center;">RA2300015</div>
<div class="t" style="left:396.96296588302755px;top:802.15px;font-size:14px;line-height:20px;color:#212121;font-weight:normal;transform:scaleX(1.0349);transform-origin:left center;">Item</div>
<div class="t" style="left:784.3600162063134px;top:802.15px;font-size:14px;line-height:20px;color:#212121;font-weight:normal;transform:scaleX(0.8185);transform-origin:left center;">FREEZER_01</div>
<div class="t" style="left:1006.2739847715735px;top:802.15px;font-size:14px;line-height:20px;color:#212121;font-weight:normal;transform:scaleX(0.8934);transform-origin:left center;">BOX</div>
<div class="t" style="left:1114.6301380018247px;top:802.15px;font-size:14px;line-height:20px;color:#212121;font-weight:normal;transform:scaleX(1.0102);transform-origin:left center;">Open</div>
<div class="t" style="left:1945.3699074074073px;top:802.15px;font-size:14px;line-height:20px;color:#212121;font-weight:normal;transform:scaleX(0.8099);transform-origin:left center;">KG</div>
<div class="t" style="right:1441.753125px;top:802.15px;font-size:14px;line-height:20px;color:#212121;font-weight:normal;text-align:right;">0</div>
<div class="t" style="right:998.4572265625px;top:802.15px;font-size:14px;line-height:20px;color:#212121;font-weight:normal;text-align:right;">_</div>
<div class="t" style="right:871.4572265625px;top:802.15px;font-size:14px;line-height:20px;color:#212121;font-weight:normal;text-align:right;">_</div>
<div class="t" style="right:744.4572265625px;top:802.15px;font-size:14px;line-height:20px;color:#212121;font-weight:normal;text-align:right;">_</div>
<div class="t" style="right:617.4572265625px;top:802.15px;font-size:14px;line-height:20px;color:#212121;font-weight:normal;text-align:right;">_</div>
<div class="t" style="right:502.75312499999995px;top:802.15px;font-size:14px;line-height:20px;color:#212121;font-weight:normal;text-align:right;">0</div>
<div class="t" style="right:280.6916015625002px;top:802.15px;font-size:14px;line-height:20px;color:#212121;font-weight:normal;text-align:right;">42.808</div>
<div class="t" style="right:165.75312500000018px;top:802.15px;font-size:14px;line-height:20px;color:#212121;font-weight:normal;text-align:right;">0.00</div>
<div class="t" style="left:502px;top:788.15px;font-size:14px;line-height:20px;color:#212121;font-weight:normal;">00000001</div>
<div class="t" style="left:502px;top:815.15px;font-size:14px;line-height:20px;color:#212121;font-weight:normal;transform:scaleX(0.9842);transform-origin:left center;">Cod Fillet - Loin</div>
<div class="t" style="left:54.685267652233776px;top:857.15px;font-size:14px;line-height:20px;color:#212121;font-weight:normal;transform:scaleX(0.9670);transform-origin:left center;">Scheduled ...</div>
<div class="t" style="left:181.766796875px;top:857.15px;font-size:14px;line-height:20px;color:#212121;font-weight:normal;">3/15/2023</div>
<div class="t" style="left:289.2004817444219px;top:857.15px;font-size:14px;line-height:20px;color:#212121;font-weight:normal;transform:scaleX(0.9574);transform-origin:left center;">RA2300009</div>
<div class="t" style="left:396.96296588302755px;top:857.15px;font-size:14px;line-height:20px;color:#212121;font-weight:normal;transform:scaleX(1.0349);transform-origin:left center;">Item</div>
<div class="t" style="left:784.3600162063134px;top:857.15px;font-size:14px;line-height:20px;color:#212121;font-weight:normal;transform:scaleX(0.8185);transform-origin:left center;">FREEZER_01</div>
<div class="t" style="left:1006.2739847715735px;top:857.15px;font-size:14px;line-height:20px;color:#212121;font-weight:normal;transform:scaleX(0.8934);transform-origin:left center;">BOX</div>
<div class="t" style="left:1114.6301380018247px;top:857.15px;font-size:14px;line-height:20px;color:#212121;font-weight:normal;transform:scaleX(1.0102);transform-origin:left center;">Open</div>
<div class="t" style="left:1945.3699074074073px;top:857.15px;font-size:14px;line-height:20px;color:#212121;font-weight:normal;transform:scaleX(0.8099);transform-origin:left center;">KG</div>
<div class="t" style="right:1441.684765625px;top:857.15px;font-size:14px;line-height:20px;color:#212121;font-weight:normal;text-align:right;">3</div>
<div class="t" style="right:997.684765625px;top:857.15px;font-size:14px;line-height:20px;color:#212121;font-weight:normal;text-align:right;">3</div>
<div class="t" style="right:870.684765625px;top:857.15px;font-size:14px;line-height:20px;color:#212121;font-weight:normal;text-align:right;">3</div>
<div class="t" style="right:744.4572265625px;top:857.15px;font-size:14px;line-height:20px;color:#212121;font-weight:normal;text-align:right;">_</div>
<div class="t" style="right:617.4572265625px;top:857.15px;font-size:14px;line-height:20px;color:#212121;font-weight:normal;text-align:right;">_</div>
<div class="t" style="right:502.75312499999995px;top:857.15px;font-size:14px;line-height:20px;color:#212121;font-weight:normal;text-align:right;">30</div>
<div class="t" style="right:280.6916015625002px;top:857.15px;font-size:14px;line-height:20px;color:#212121;font-weight:normal;text-align:right;">42.808</div>
<div class="t" style="right:165.88984375000018px;top:857.15px;font-size:14px;line-height:20px;color:#212121;font-weight:normal;text-align:right;">1,284.24</div>
<div class="t" style="left:502px;top:843.15px;font-size:14px;line-height:20px;color:#212121;font-weight:normal;">00000001</div>
<div class="t" style="left:502px;top:870.15px;font-size:14px;line-height:20px;color:#212121;font-weight:normal;transform:scaleX(0.9842);transform-origin:left center;">Cod Fillet - Loin</div>
<div class="t" style="left:54.685267652233776px;top:912.15px;font-size:14px;line-height:20px;color:#212121;font-weight:normal;transform:scaleX(0.9670);transform-origin:left center;">Scheduled ...</div>
<div class="t" style="left:181.766796875px;top:912.15px;font-size:14px;line-height:20px;color:#212121;font-weight:normal;">3/22/2023</div>
<div class="t" style="left:289.2004817444219px;top:912.15px;font-size:14px;line-height:20px;color:#212121;font-weight:normal;transform:scaleX(0.9574);transform-origin:left center;">RA2300010</div>
<div class="t" style="left:396.96296588302755px;top:912.15px;font-size:14px;line-height:20px;color:#212121;font-weight:normal;transform:scaleX(1.0349);transform-origin:left center;">Item</div>
<div class="t" style="left:784.3600162063134px;top:912.15px;font-size:14px;line-height:20px;color:#212121;font-weight:normal;transform:scaleX(0.8185);transform-origin:left center;">FREEZER_01</div>
<div class="t" style="left:1006.2739847715735px;top:912.15px;font-size:14px;line-height:20px;color:#212121;font-weight:normal;transform:scaleX(0.8934);transform-origin:left center;">BOX</div>
<div class="t" style="left:1114.6301380018247px;top:912.15px;font-size:14px;line-height:20px;color:#212121;font-weight:normal;transform:scaleX(1.0102);transform-origin:left center;">Open</div>
<div class="t" style="left:1945.3699074074073px;top:912.15px;font-size:14px;line-height:20px;color:#212121;font-weight:normal;transform:scaleX(0.8099);transform-origin:left center;">KG</div>
<div class="t" style="right:1441.684765625px;top:912.15px;font-size:14px;line-height:20px;color:#212121;font-weight:normal;text-align:right;">3</div>
<div class="t" style="right:997.684765625px;top:912.15px;font-size:14px;line-height:20px;color:#212121;font-weight:normal;text-align:right;">3</div>
<div class="t" style="right:870.684765625px;top:912.15px;font-size:14px;line-height:20px;color:#212121;font-weight:normal;text-align:right;">3</div>
<div class="t" style="right:744.4572265625px;top:912.15px;font-size:14px;line-height:20px;color:#212121;font-weight:normal;text-align:right;">_</div>
<div class="t" style="right:617.4572265625px;top:912.15px;font-size:14px;line-height:20px;color:#212121;font-weight:normal;text-align:right;">_</div>
<div class="t" style="right:502.75312499999995px;top:912.15px;font-size:14px;line-height:20px;color:#212121;font-weight:normal;text-align:right;">30</div>
<div class="t" style="right:280.6916015625002px;top:912.15px;font-size:14px;line-height:20px;color:#212121;font-weight:normal;text-align:right;">42.808</div>
<div class="t" style="right:165.88984375000018px;top:912.15px;font-size:14px;line-height:20px;color:#212121;font-weight:normal;text-align:right;">1,284.24</div>
<div class="t" style="left:502px;top:898.15px;font-size:14px;line-height:20px;color:#212121;font-weight:normal;">00000001</div>
<div class="t" style="left:502px;top:925.15px;font-size:14px;line-height:20px;color:#212121;font-weight:normal;transform:scaleX(0.9842);transform-origin:left center;">Cod Fillet - Loin</div>
<div class="t" style="left:54.685267652233776px;top:967.15px;font-size:14px;line-height:20px;color:#212121;font-weight:normal;transform:scaleX(0.9670);transform-origin:left center;">Scheduled ...</div>
<div class="t" style="left:181.766796875px;top:967.15px;font-size:14px;line-height:20px;color:#212121;font-weight:normal;">3/29/2023</div>
<div class="t" style="left:289.1846450617284px;top:967.15px;font-size:14px;line-height:20px;color:#212121;font-weight:normal;transform:scaleX(0.9712);transform-origin:left center;">RA2300011</div>
<div class="t" style="left:396.96296588302755px;top:967.15px;font-size:14px;line-height:20px;color:#212121;font-weight:normal;transform:scaleX(1.0349);transform-origin:left center;">Item</div>
<div class="t" style="left:784.3600162063134px;top:967.15px;font-size:14px;line-height:20px;color:#212121;font-weight:normal;transform:scaleX(0.8185);transform-origin:left center;">FREEZER_01</div>
<div class="t" style="left:1006.2739847715735px;top:967.15px;font-size:14px;line-height:20px;color:#212121;font-weight:normal;transform:scaleX(0.8934);transform-origin:left center;">BOX</div>
<div class="t" style="left:1114.6301380018247px;top:967.15px;font-size:14px;line-height:20px;color:#212121;font-weight:normal;transform:scaleX(1.0102);transform-origin:left center;">Open</div>
<div class="t" style="left:1945.3699074074073px;top:967.15px;font-size:14px;line-height:20px;color:#212121;font-weight:normal;transform:scaleX(0.8099);transform-origin:left center;">KG</div>
<div class="t" style="right:1441.684765625px;top:967.15px;font-size:14px;line-height:20px;color:#212121;font-weight:normal;text-align:right;">3</div>
<div class="t" style="right:997.684765625px;top:967.15px;font-size:14px;line-height:20px;color:#212121;font-weight:normal;text-align:right;">3</div>
<div class="t" style="right:870.684765625px;top:967.15px;font-size:14px;line-height:20px;color:#212121;font-weight:normal;text-align:right;">3</div>
<div class="t" style="right:744.4572265625px;top:967.15px;font-size:14px;line-height:20px;color:#212121;font-weight:normal;text-align:right;">_</div>
<div class="t" style="right:617.4572265625px;top:967.15px;font-size:14px;line-height:20px;color:#212121;font-weight:normal;text-align:right;">_</div>
<div class="t" style="right:502.75312499999995px;top:967.15px;font-size:14px;line-height:20px;color:#212121;font-weight:normal;text-align:right;">30</div>
<div class="t" style="right:280.6916015625002px;top:967.15px;font-size:14px;line-height:20px;color:#212121;font-weight:normal;text-align:right;">42.808</div>
<div class="t" style="right:165.88984375000018px;top:967.15px;font-size:14px;line-height:20px;color:#212121;font-weight:normal;text-align:right;">1,284.24</div>
<div class="t" style="left:502px;top:953.15px;font-size:14px;line-height:20px;color:#212121;font-weight:normal;">00000001</div>
<div class="t" style="left:502px;top:980.15px;font-size:14px;line-height:20px;color:#212121;font-weight:normal;transform:scaleX(0.9842);transform-origin:left center;">Cod Fillet - Loin</div>
<div class="t" style="left:54.685267652233776px;top:1022.15px;font-size:14px;line-height:20px;color:#212121;font-weight:normal;transform:scaleX(0.9670);transform-origin:left center;">Scheduled ...</div>
<div class="t" style="left:181.9787109375px;top:1022.15px;font-size:14px;line-height:20px;color:#212121;font-weight:normal;">4/5/2023</div>
<div class="t" style="left:289.2004817444219px;top:1022.15px;font-size:14px;line-height:20px;color:#212121;font-weight:normal;transform:scaleX(0.9574);transform-origin:left center;">RA2300012</div>
<div class="t" style="left:396.96296588302755px;top:1022.15px;font-size:14px;line-height:20px;color:#212121;font-weight:normal;transform:scaleX(1.0349);transform-origin:left center;">Item</div>
<div class="t" style="left:784.3600162063134px;top:1022.15px;font-size:14px;line-height:20px;color:#212121;font-weight:normal;transform:scaleX(0.8185);transform-origin:left center;">FREEZER_01</div>
<div class="t" style="left:1006.2739847715735px;top:1022.15px;font-size:14px;line-height:20px;color:#212121;font-weight:normal;transform:scaleX(0.8934);transform-origin:left center;">BOX</div>
<div class="t" style="left:1114.6301380018247px;top:1022.15px;font-size:14px;line-height:20px;color:#212121;font-weight:normal;transform:scaleX(1.0102);transform-origin:left center;">Open</div>
<div class="t" style="left:1945.3699074074073px;top:1022.15px;font-size:14px;line-height:20px;color:#212121;font-weight:normal;transform:scaleX(0.8099);transform-origin:left center;">KG</div>
<div class="t" style="right:1441.5958984375px;top:1022.15px;font-size:14px;line-height:20px;color:#212121;font-weight:normal;text-align:right;">2</div>
<div class="t" style="right:997.5958984375px;top:1022.15px;font-size:14px;line-height:20px;color:#212121;font-weight:normal;text-align:right;">2</div>
<div class="t" style="right:870.5958984375px;top:1022.15px;font-size:14px;line-height:20px;color:#212121;font-weight:normal;text-align:right;">2</div>
<div class="t" style="right:744.4572265625px;top:1022.15px;font-size:14px;line-height:20px;color:#212121;font-weight:normal;text-align:right;">_</div>
<div class="t" style="right:617.4572265625px;top:1022.15px;font-size:14px;line-height:20px;color:#212121;font-weight:normal;text-align:right;">_</div>
<div class="t" style="right:502.75312499999995px;top:1022.15px;font-size:14px;line-height:20px;color:#212121;font-weight:normal;text-align:right;">20</div>
<div class="t" style="right:280.6916015625002px;top:1022.15px;font-size:14px;line-height:20px;color:#212121;font-weight:normal;text-align:right;">42.808</div>
<div class="t" style="right:165.68476562500018px;top:1022.15px;font-size:14px;line-height:20px;color:#212121;font-weight:normal;text-align:right;">856.16</div>
<div class="t" style="left:502px;top:1008.15px;font-size:14px;line-height:20px;color:#212121;font-weight:normal;">00000001</div>
<div class="t" style="left:502px;top:1035.15px;font-size:14px;line-height:20px;color:#212121;font-weight:normal;transform:scaleX(0.9842);transform-origin:left center;">Cod Fillet - Loin</div>
<div class="ab rb" style="left:22px;top:455px;width:2354px;height:49px"></div>
<div class="ab" style="left:2390px;top:460px;width:17px;height:599px;background:#f1f1f1"></div>
<div class="ab" style="left:2392px;top:763px;width:13px;height:280px;background:#c1c1c1"></div>
<svg class="ab" style="left:2393px;top:465px" width="10" height="6"><path d="M1 5 L5 1 L9 5Z" fill="#505050"/></svg>
<svg class="ab" style="left:2393px;top:1047px" width="10" height="6"><path d="M1 1 L5 5 L9 1Z" fill="#a3a3a3"/></svg>
<div class="hl" style="top:1077px"></div>
<div class="ab" style="left:2323px;top:1097px;width:82px;height:30px;border:1px solid #777;border-radius:2px"></div>
<div class="t" style="left:2348.5px;top:1103.15px;font-size:14px;line-height:20px;color:#212121;font-weight:normal;">Close</div>

</body></html>
